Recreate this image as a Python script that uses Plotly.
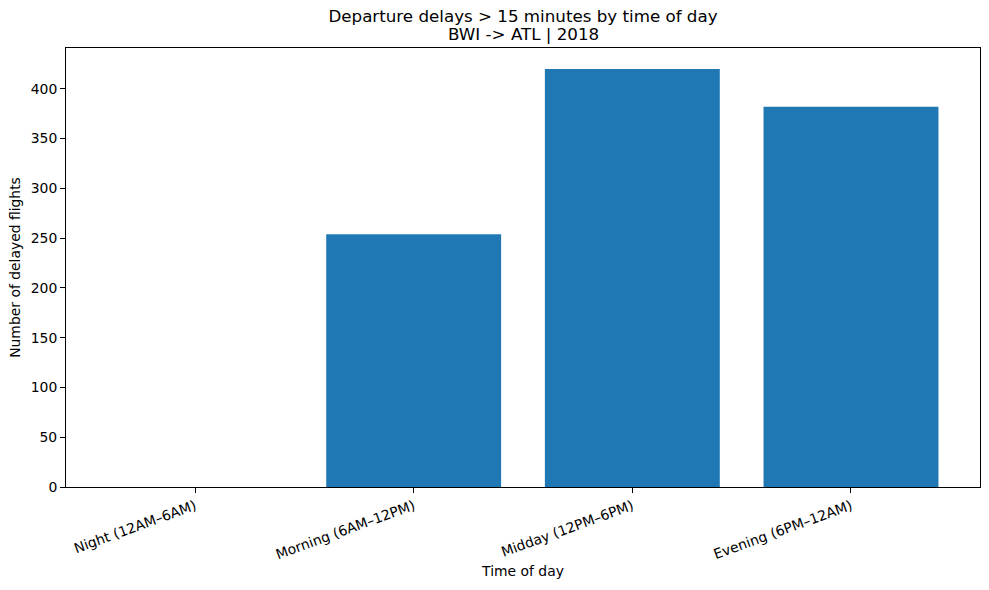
import plotly.graph_objects as go

categories = ["Night (12AM\u20136AM)", "Morning (6AM\u201312PM)", "Midday (12PM\u20136PM)", "Evening (6PM\u201312AM)"]
delayed_flights = [0, 254, 420, 382]
y_ticks = [0, 50, 100, 150, 200, 250, 300, 350, 400]
title_line1 = "Departure delays > 15 minutes by time of day"
title_line2 = "BWI -> ATL | 2018"

positions = list(range(len(categories)))

fig = go.Figure()
fig.add_trace(go.Bar(
    x=positions,
    y=delayed_flights,
    width=0.8,
    marker=dict(color="#1f77b4", line=dict(width=0)),
    hovertext=categories,
))

font_family = "DejaVu Sans"
W, H = 989, 590
ML, MR, MT, MB = 66, 9, 48, 103
plot_h = H - MT - MB

fig.update_layout(
    width=W,
    height=H,
    margin=dict(l=ML, r=MR, t=MT, b=MB),
    paper_bgcolor="white",
    plot_bgcolor="white",
    font=dict(family=font_family, size=13.9, color="black"),
    showlegend=False,
    title=dict(
        text=title_line1,
        x=0.5, xref="paper", xanchor="center",
        y=1 - 16 / H, yref="container", yanchor="middle",
        font=dict(family=font_family, size=16.7, color="black"),
    ),
    annotations=[dict(
        text=title_line2,
        x=0.5, xref="paper", xanchor="center",
        y=1 + 14 / plot_h, yref="paper", yanchor="middle",
        showarrow=False,
        font=dict(family=font_family, size=16.7, color="black"),
    )],
)
fig.update_xaxes(
    range=[-0.59, 3.59],
    tickmode="array",
    tickvals=positions,
    ticktext=categories,
    tickangle=-20,
    ticks="outside", ticklen=5, tickwidth=1, tickcolor="black",
    showline=True, linecolor="black", linewidth=1, mirror=True,
    showgrid=False, zeroline=False,
    tickfont=dict(size=13.9),
    title=dict(text="Time of day", font=dict(size=13.9), standoff=4),
    automargin=False,
)
fig.update_yaxes(
    range=[0, 441],
    tickmode="array",
    tickvals=y_ticks,
    ticks="outside", ticklen=5, tickwidth=1, tickcolor="black",
    showline=True, linecolor="black", linewidth=1, mirror=True,
    showgrid=False, zeroline=False,
    tickfont=dict(size=13.9),
    title=dict(text="Number of delayed flights", font=dict(size=13.9), standoff=6),
    automargin=False,
)

fig.write_html(
    "out.html",
    config={"displayModeBar": False},
    post_script="document.body.style.margin='0';",
)
